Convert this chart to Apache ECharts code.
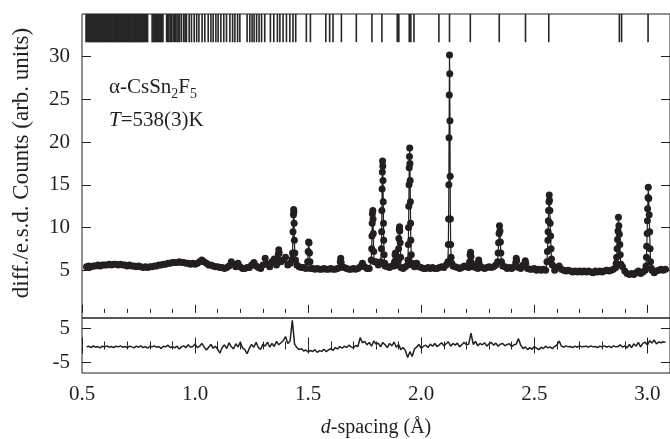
<!DOCTYPE html>
<html>
<head>
<meta charset="utf-8">
<script src="https://cdn.jsdelivr.net/npm/echarts@6/dist/echarts.min.js"></script>
<style>
  html, body { margin: 0; padding: 0; background: #fff; }
  #chart { width: 670px; height: 439px; }
</style>
</head>
<body>
<div id="chart"></div>
<script>
// axis ticks
const xTicks = [0.5, 1.0, 1.5, 2.0, 2.5, 3.0];
const yTicksTop = [5, 10, 15, 20, 25, 30];
const yTicksDiff = [-5, 5];

// observed counts on a 0.01 A grid starting at 0.52 (null = covered by peak points below)
const gridStart = 0.52;
const gridStep = 0.01;
const obsGrid = [
  5.4, 5.5, 5.4, 5.5, 5.5, 5.6, 5.5, 5.6, 5.6, 5.6,
  5.7, 5.6, 5.7, 5.7, 5.6, 5.7, 5.6, 5.6, 5.5, 5.6,
  5.5, 5.5, 5.4, 5.5, 5.4, 5.3, 5.4, 5.3, 5.4, 5.4,
  5.5, 5.5, 5.6, 5.6, 5.7, 5.7, 5.8, 5.8, 5.9, 5.9,
  5.9, 6.0, 5.9, 5.9, 5.8, 5.8, 5.7, 5.8, 5.7, 5.8,
  6.0, 6.2, 6.0, 5.8, 5.6, 5.6, 5.5, 5.4, 5.4, 5.3,
  5.3, 5.2, 5.3, 5.5, 6.0, 5.7, 5.4, 5.8, 5.4, 5.2,
  5.2, 5.3, 5.3, 5.6, 5.9, 5.5, 5.3, 5.2, 5.6, 6.4,
  5.7, 5.4, 6.0, 6.3, 5.6, null, 6.0, 6.2, 6.5, 5.6,
  5.8, 6.3, null, 5.6, 5.4, 5.3, 5.3, 5.2, null, 5.2,
  5.2, 5.1, 5.2, 5.1, 5.1, 5.2, 5.1, 5.1, 5.2, 5.1,
  5.1, 5.2, 5.3, 5.4, 5.3, 5.2, 5.1, 5.1, 5.2, 5.1,
  5.2, 5.4, 5.8, 5.4, 5.2, 5.2, null, null, 6.0, 5.6,
  5.8, null, 5.5, 5.4, 5.3, 5.5, 5.5, 5.6, null, 5.3,
  5.2, 5.4, 5.6, null, 5.6, 5.4, 5.8, 5.4, 5.3, 5.2,
  5.2, 5.3, 5.2, 5.3, 5.2, 5.2, 5.3, 5.4, 5.3, 5.6,
  null, null, 5.5, 5.4, 5.3, 5.2, 5.3, 5.5, 5.4, 5.3,
  null, 5.4, 5.3, 5.2, 5.4, 5.3, 5.2, 5.3, 5.4, 5.3,
  5.4, 5.6, null, null, 5.5, 5.4, 5.2, 5.3, 5.2, 5.4,
  null, 5.3, 5.2, 5.6, null, 5.2, 5.1, 5.1, 5.2, 5.0,
  5.1, 5.0, 5.1, 5.0, null, null, null, 5.0, 5.3, 5.5,
  5.1, 5.0, 4.9, 5.0, 4.9, 4.8, 4.9, 4.8, 4.9, 4.8,
  4.9, 4.8, 4.9, 4.8, 4.7, 4.9, 4.8, 4.9, 4.8, 4.9,
  5.0, 4.9, 5.0, 5.1, 5.3, null, null, 5.4, 4.9, 4.6,
  4.5, 4.6, 4.5, 4.7, 4.9, 4.6, 4.8, 5.0, null, null,
  5.0, 4.7, 4.9, 5.0, 5.1, 5.0, 5.1
];

// observed points across the Bragg peaks [d, counts]
const peakPts = [
  [1.366, 6.2], [1.368, 6.9], [1.370, 7.4], [1.372, 7.0], [1.374, 6.2],
  [1.431, 7.0], [1.433, 9.5], [1.435, 11.5], [1.436, 12.1], [1.437, 11.8], [1.438, 10.5], [1.439, 8.5], [1.441, 7.0], [1.444, 6.2],
  [1.498, 6.0], [1.500, 7.2], [1.502, 8.3], [1.504, 8.2], [1.506, 7.0], [1.508, 6.0],
  [1.642, 6.0], [1.644, 6.4], [1.646, 5.9],
  [1.779, 6.2], [1.781, 7.5], [1.782, 9.0], [1.783, 10.5], [1.784, 11.6], [1.786, 12.0], [1.787, 11.0], [1.788, 9.3], [1.790, 7.2], [1.792, 6.0],
  [1.822, 6.0], [1.824, 7.5], [1.825, 9.5], [1.826, 12.0], [1.827, 14.5], [1.828, 16.5], [1.829, 17.8], [1.830, 17.2], [1.831, 15.5], [1.832, 13.0], [1.833, 10.5], [1.834, 8.5], [1.836, 6.8], [1.839, 5.8],
  [1.882, 6.0], [1.884, 6.8], [1.886, 7.0], [1.888, 6.2],
  [1.898, 6.1], [1.900, 7.5], [1.901, 8.7], [1.903, 9.8], [1.904, 10.1], [1.905, 9.6], [1.907, 8.2], [1.909, 6.5],
  [1.941, 6.2], [1.943, 8.0], [1.944, 10.0], [1.945, 12.5], [1.946, 15.0], [1.947, 17.0], [1.948, 18.3], [1.949, 19.3], [1.950, 17.5], [1.951, 15.5], [1.952, 13.0], [1.953, 10.5], [1.954, 8.5], [1.956, 6.8], [1.959, 5.8],
  [2.118, 6.0], [2.120, 8.0], [2.121, 11.0], [2.122, 15.0], [2.123, 20.5], [2.124, 25.5], [2.125, 30.2], [2.126, 28.0], [2.127, 22.5], [2.128, 16.0], [2.129, 11.0], [2.130, 8.0], [2.132, 6.5], [2.135, 5.8],
  [2.214, 6.0], [2.216, 6.8], [2.218, 7.1], [2.220, 6.6], [2.222, 5.9],
  [2.252, 5.8], [2.254, 6.2], [2.256, 5.8],
  [2.338, 6.0], [2.340, 7.0], [2.342, 8.2], [2.344, 9.3], [2.346, 10.2], [2.348, 9.6], [2.350, 8.3], [2.352, 7.0], [2.355, 6.0],
  [2.418, 5.9], [2.420, 6.4], [2.422, 6.1],
  [2.458, 5.7], [2.460, 6.1], [2.462, 5.8],
  [2.556, 6.0], [2.558, 7.2], [2.560, 8.5], [2.561, 9.5], [2.562, 10.8], [2.563, 12.0], [2.565, 13.0], [2.566, 13.8], [2.567, 13.2], [2.569, 12.0], [2.570, 10.5], [2.572, 9.0], [2.574, 7.5], [2.576, 6.3], [2.580, 5.6],
  [2.862, 5.8], [2.864, 6.5], [2.866, 7.5], [2.868, 8.6], [2.870, 9.6], [2.872, 11.2], [2.874, 10.2], [2.876, 9.2], [2.878, 8.0], [2.880, 6.8], [2.883, 5.7],
  [2.994, 5.5], [2.996, 6.5], [2.997, 7.8], [2.999, 9.3], [3.000, 10.8], [3.001, 12.2], [3.003, 13.5], [3.004, 14.7], [3.006, 13.4], [3.008, 11.5], [3.010, 9.5], [3.012, 7.5], [3.014, 6.0], [3.018, 5.2]
];

// difference / e.s.d. on the same 0.01 A grid
const diffVals = [
  -0.4, -0.2, -0.6, -0.1, -0.5, -0.3, -0.7, -0.2, -0.4, -0.1,
  -0.5, -0.3, -0.6, -0.2, -0.4, -0.1, -0.5, -0.3, -0.6, -0.2,
  -0.4, -0.7, -0.2, -0.5, -0.1, -0.6, -0.3, -0.8, -0.2, -0.4,
  -0.1, -0.5, -0.3, -0.9, -0.2, -0.4, 0.1, -0.6, -0.3, -0.7,
  -0.2, -1.0, -0.4, -0.1, -0.6, 0.2, -0.5, -0.3, 0.4, -0.6,
  -0.2, 0.6, -0.4, -1.3, -0.5, 0.3, -0.8, -0.2, -1.1, -2.2,
  -0.6, 0.2, -0.9, 0.8, -0.3, -1.0, 0.5, -0.4, 1.0, -0.7,
  -1.2, -2.4, -0.8, 0.3, -0.5, 0.9, -0.6, -1.1, 0.4, -0.2,
  1.0, -0.5, 0.6, -0.3, 1.2, 0.2, 0.8, 1.4, 2.6, 0.6,
  1.3, 7.3, 0.4, -0.6, -1.2, -0.9, -1.6, -1.3, -1.9, -1.4,
  -1.8, -1.2, -2.0, -1.5, -1.7, -1.1, -1.8, -1.3, -0.9, -1.4,
  -0.6, -1.0, -0.3, -0.8, -0.2, -0.6, 0.1, -0.4, -0.7, 0.0,
  -0.3, 2.3, 0.8, 1.2, 0.2, 0.9, -0.2, 1.3, 0.4, 0.7,
  -0.4, 0.9, 0.2, -0.6, 0.6, -0.1, 1.0, -0.5, 0.3, -1.2,
  -0.6, -1.5, -3.5, -1.8, -3.2, -1.0, -0.4, 0.3, -0.8, -0.2,
  0.1, -0.6, 0.4, -0.2, 0.6, -0.3, 0.2, 0.8, -0.1, 0.5,
  1.1, -0.2, 0.6, 0.1, 0.7, -0.4, 0.3, 0.9, 0.2, 0.4,
  3.6, 0.3, 1.2, -0.1, 0.6, 0.2, 0.8, -0.2, 0.5, 0.9,
  0.1, 0.7, -0.2, 0.4, 0.6, -0.1, 0.3, 0.5, -0.3, 0.2,
  0.4, 2.0, 0.1, -0.9, -0.4, -1.2, -0.6, -1.1, -0.3, -0.8,
  -1.2, -0.5, -0.9, -0.2, -0.7, -0.4, -0.9, -0.3, 0.2, 1.3,
  -0.2, -0.5, -0.1, -0.4, -0.3, -0.6, -0.2, -0.5, -0.1, -0.4,
  -0.3, -0.2, -0.5, -0.1, -0.4, -0.3, -0.6, -0.2, -0.4, -0.1,
  -0.5, -0.2, -0.6, -0.1, -0.4, -0.3, 0.2, -0.5, -0.1, -0.7,
  0.3, -0.6, 0.5, -0.2, 0.9, -0.4, 0.6, 1.0, 0.1, 1.4,
  0.7, 1.6, 0.5, 1.0, 0.8, 1.1, 0.9
];

// reflection positions (d, A)
const reflD = [
  0.518, 0.521, 0.525, 0.528, 0.532, 0.535, 0.539, 0.542, 0.546, 0.549, 0.553, 0.556, 0.560, 0.563,
  0.567, 0.570, 0.574, 0.577, 0.581, 0.584, 0.588, 0.591, 0.595, 0.598, 0.602, 0.605, 0.609, 0.612,
  0.616, 0.619, 0.623, 0.626, 0.630, 0.633, 0.637, 0.640, 0.644, 0.647, 0.651, 0.654, 0.658, 0.661,
  0.665, 0.668, 0.672, 0.675, 0.679, 0.682, 0.686, 0.689, 0.693, 0.696, 0.700, 0.703, 0.707, 0.710,
  0.714, 0.717, 0.721, 0.724, 0.728, 0.731, 0.735, 0.738, 0.742, 0.745, 0.749, 0.752, 0.756, 0.759,
  0.763, 0.766, 0.770, 0.773, 0.777, 0.780, 0.784, 0.787, 0.790,
  0.810, 0.814, 0.818, 0.822, 0.826, 0.830, 0.834, 0.838, 0.842, 0.846, 0.850, 0.854, 0.858,
  0.874, 0.879, 0.884, 0.890, 0.896, 0.903, 0.908, 0.914, 0.920, 0.925, 0.932, 0.940, 0.950, 0.956,
  0.962, 0.974, 0.984, 0.996, 1.007, 1.017, 1.031, 1.043, 1.058, 1.070, 1.080, 1.092, 1.102, 1.114,
  1.127, 1.139, 1.154, 1.166, 1.176, 1.188, 1.198,
  1.230, 1.242, 1.252, 1.261, 1.272, 1.283, 1.294, 1.308,
  1.333, 1.348, 1.364, 1.375, 1.389, 1.404, 1.419, 1.433, 1.445,
  1.492, 1.510, 1.578, 1.595, 1.610,
  1.647, 1.713, 1.782, 1.826, 1.894, 1.901, 1.947, 1.954, 1.968, 2.078, 2.125, 2.217,
  2.345, 2.461, 2.564, 2.876, 2.886, 3.003
];
const reflLow = 31.7;
const reflHigh = 35;

const obsPts = [];
obsGrid.forEach((v, i) => {
  if (v !== null) obsPts.push([+(gridStart + i * gridStep).toFixed(3), v]);
});
peakPts.forEach(p => obsPts.push(p));
obsPts.sort((a, b) => a[0] - b[0]);

const diffPts = diffVals.map((v, i) => [+(gridStart + i * gridStep).toFixed(3), v]);

const ink = '#231f20';
const serif = 'Liberation Serif';

const chart = echarts.init(document.getElementById('chart'));

function xAxisBase(gridIndex, position) {
  return {
    type: 'value', gridIndex: gridIndex, position: position,
    min: 0.5, max: 3.1, interval: 0.5,
    axisLine: { show: false },
    axisTick: { show: true, inside: true, length: 8, lineStyle: { color: ink, width: 1 } },
    minorTick: { show: true, splitNumber: 5, length: 4, lineStyle: { color: ink, width: 1 } },
    axisLabel: { show: false },
    splitLine: { show: false },
    minorSplitLine: { show: false }
  };
}

function yAxisBase(gridIndex, position, min, max, ticks) {
  return {
    type: 'value', gridIndex: gridIndex, position: position,
    min: min, max: max,
    axisLine: { show: false },
    axisTick: { show: true, inside: true, length: 9, customValues: ticks, lineStyle: { color: ink, width: 1 } },
    axisLabel: { show: false },
    splitLine: { show: false }
  };
}

const xBottom = xAxisBase(1, 'bottom');
xBottom.axisLabel = {
  show: true, customValues: xTicks, margin: 11,
  fontFamily: serif, fontSize: 21, color: ink,
  formatter: v => v.toFixed(1)
};
xBottom.name = '{i|d}-spacing (Å)';
xBottom.nameLocation = 'middle';
xBottom.nameGap = 45;
xBottom.nameTextStyle = {
  fontFamily: serif, fontSize: 20, color: ink,
  rich: { i: { fontFamily: serif, fontSize: 20, fontStyle: 'italic', color: ink } }
};

const yLeftTop = yAxisBase(0, 'left', -0.6, 35, yTicksTop);
yLeftTop.axisLabel = { show: true, customValues: yTicksTop, margin: 12, fontFamily: serif, fontSize: 21, color: ink };

const yLeftDiff = yAxisBase(1, 'left', -8, 8, yTicksDiff);
yLeftDiff.axisLabel = { show: true, customValues: yTicksDiff, margin: 12, fontFamily: serif, fontSize: 21, color: ink };

chart.setOption({
  animation: false,
  backgroundColor: '#fff',
  grid: [
    { left: 82, right: 0, top: 14, height: 304, show: true, borderColor: ink, borderWidth: 1, backgroundColor: 'transparent' },
    { left: 82, right: 0, top: 318, height: 56, show: true, borderColor: ink, borderWidth: 1, backgroundColor: 'transparent' }
  ],
  xAxis: [
    xAxisBase(0, 'bottom'),
    xBottom,
    xAxisBase(1, 'top')
  ],
  yAxis: [
    yLeftTop,
    yAxisBase(0, 'right', -0.6, 35, yTicksTop),
    yLeftDiff,
    yAxisBase(1, 'right', -8, 8, yTicksDiff)
  ],
  graphic: [
    {
      type: 'text', x: 22, y: 163, rotation: Math.PI / 2,
      style: {
        text: 'diff./e.s.d. Counts (arb. units)',
        font: '23px "Liberation Serif"', fill: ink,
        align: 'center', verticalAlign: 'middle'
      }
    },
    {
      type: 'text', left: 109, top: 77,
      style: {
        text: '{a|α-CsSn}{s|2}{a|F}{s|5}',
        rich: {
          a: { fontFamily: serif, fontSize: 21, lineHeight: 21, verticalAlign: 'top', fill: ink },
          s: { fontFamily: serif, fontSize: 14, lineHeight: 24, verticalAlign: 'bottom', fill: ink }
        }
      }
    },
    {
      type: 'text', left: 109, top: 110,
      style: {
        text: '{i|T}{a|=538(3)K}',
        rich: {
          i: { fontFamily: serif, fontSize: 21, fontStyle: 'italic', lineHeight: 21, fill: ink },
          a: { fontFamily: serif, fontSize: 21, lineHeight: 21, fill: ink }
        }
      }
    }
  ],
  series: [
    {
      name: 'reflections',
      type: 'custom',
      xAxisIndex: 0, yAxisIndex: 0,
      data: reflD.map(d => [d, reflLow]),
      encode: { x: 0, y: 1 },
      renderItem: function (params, api) {
        const p0 = api.coord([api.value(0), reflLow]);
        const p1 = api.coord([api.value(0), reflHigh]);
        return {
          type: 'line',
          shape: { x1: p0[0], y1: p0[1], x2: p1[0], y2: p1[1] },
          style: { stroke: '#262626', lineWidth: 1.6 }
        };
      }
    },
    {
      name: 'observed',
      type: 'line',
      xAxisIndex: 0, yAxisIndex: 0,
      data: obsPts,
      symbol: 'circle',
      symbolSize: 7,
      showAllSymbol: true,
      itemStyle: { color: ink },
      lineStyle: { color: ink, width: 1.2 }
    },
    {
      name: 'difference',
      type: 'line',
      xAxisIndex: 1, yAxisIndex: 2,
      data: diffPts,
      showSymbol: false,
      lineStyle: { color: ink, width: 1.5 }
    }
  ]
});
</script>
</body>
</html>
